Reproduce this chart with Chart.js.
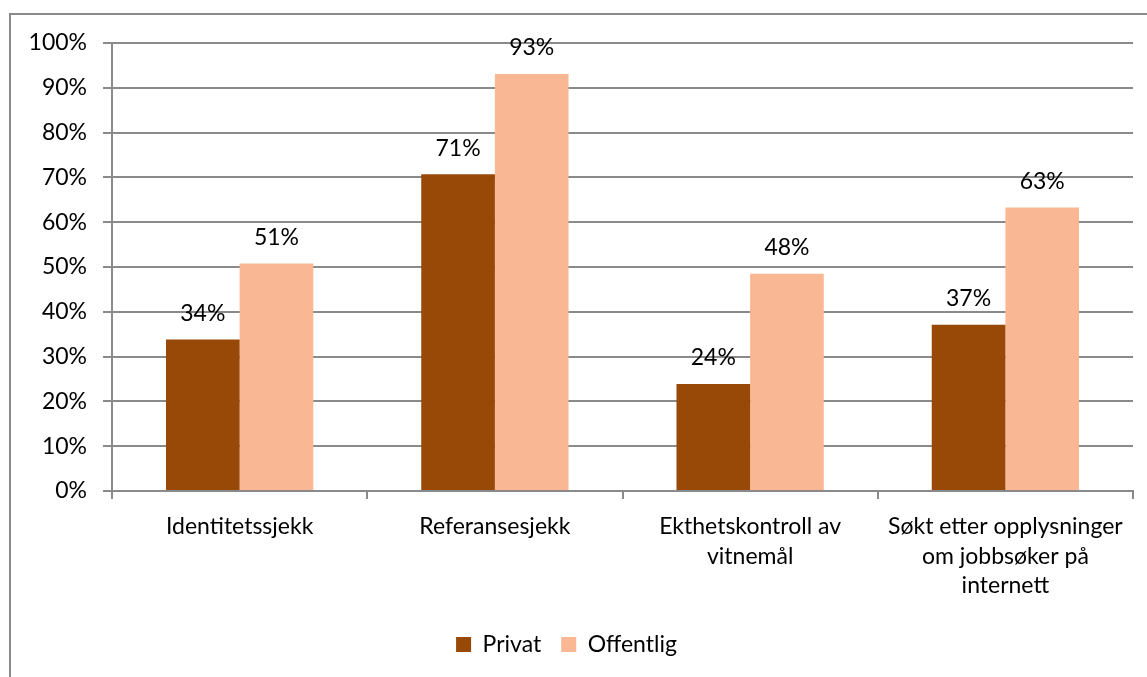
<!DOCTYPE html>
<html>
<head>
<meta charset="utf-8">
<script src="https://cdn.jsdelivr.net/npm/chart.js@4"></script>
<style>
  html, body { margin: 0; padding: 0; background: #fff; overflow: hidden; }
  #wrap { position: relative; width: 1147px; height: 677px; }
  #frame { position: absolute; left: 9px; top: 13px; width: 1200px; height: 700px; border: 2px solid #8a8a8a; box-sizing: border-box; }
  canvas { position: absolute; left: 0; top: 0; }
</style>
</head>
<body>
<div id="wrap">
  <div id="frame"></div>
  <canvas id="chart" width="1147" height="677"></canvas>
</div>
<script>
// categories and values
const categories = [
    ['Identitetssjekk'],
    ['Referansesjekk'],
    ['Ekthetskontroll av', 'vitnemål'],
    ['Søkt etter opplysninger', 'om jobbsøker på', 'internett']
];
const privatValues = [34, 71, 24, 37];
const offentligValues = [51, 93, 48, 63];
const privatPrecise = [33.8, 70.7, 23.9, 37.1];
const offentligPrecise = [50.8, 93.1, 48.5, 63.3];

const FONT = 'Lato, "Open Sans", sans-serif';
const FS = 23;

// simple data label plugin: percent text above each bar
const barLabels = {
    id: 'barLabels',
    afterDatasetsDraw(chart) {
        const ctx = chart.ctx;
        ctx.save();
        ctx.font = FS + 'px ' + FONT;
        ctx.fillStyle = '#000';
        ctx.textAlign = 'center';
        ctx.textBaseline = 'middle';
        const labelSets = [privatValues, offentligValues];
        chart.data.datasets.forEach((ds, i) => {
            chart.getDatasetMeta(i).data.forEach((bar, j) => {
                ctx.fillText(labelSets[i][j] + '%', bar.x, bar.y - 26);
            });
        });
        ctx.restore();
    }
};

new Chart(document.getElementById('chart').getContext('2d'), {
    type: 'bar',
    data: {
        labels: categories,
        datasets: [
            { label: 'Privat', data: privatPrecise, backgroundColor: '#984807' },
            { label: 'Offentlig', data: offentligPrecise, backgroundColor: '#FAB794' }
        ]
    },
    options: {
        responsive: false,
        animation: false,
        layout: { padding: { left: 0, right: 14, top: 43, bottom: 11 } },
        datasets: { bar: { categoryPercentage: 0.577, barPercentage: 1 } },
        scales: {
            x: {
                grid: { drawOnChartArea: false, drawTicks: true, tickLength: 8, color: '#8a8a8a', lineWidth: 2, offset: true },
                border: { color: '#8a8a8a', width: 2 },
                ticks: { color: '#000', font: { family: FONT, size: FS, lineHeight: 1.28 }, padding: 13, maxRotation: 0, autoSkip: false },
                afterFit(scale) { scale.height = 122; }
            },
            y: {
                min: 0, max: 100,
                grid: { color: '#8a8a8a', lineWidth: 2, tickLength: 9 },
                border: { color: '#8a8a8a', width: 2 },
                ticks: { stepSize: 10, color: '#000', font: { family: FONT, size: FS }, padding: 16, callback: v => v + '%' },
                afterFit(scale) { scale.width = 112; }
            }
        },
        plugins: {
            legend: {
                position: 'bottom',
                labels: { color: '#000', font: { family: FONT, size: FS }, boxWidth: 15, boxHeight: 15, padding: 20 }
            },
            tooltip: { enabled: false }
        }
    },
    plugins: [barLabels]
});
</script>
</body>
</html>
